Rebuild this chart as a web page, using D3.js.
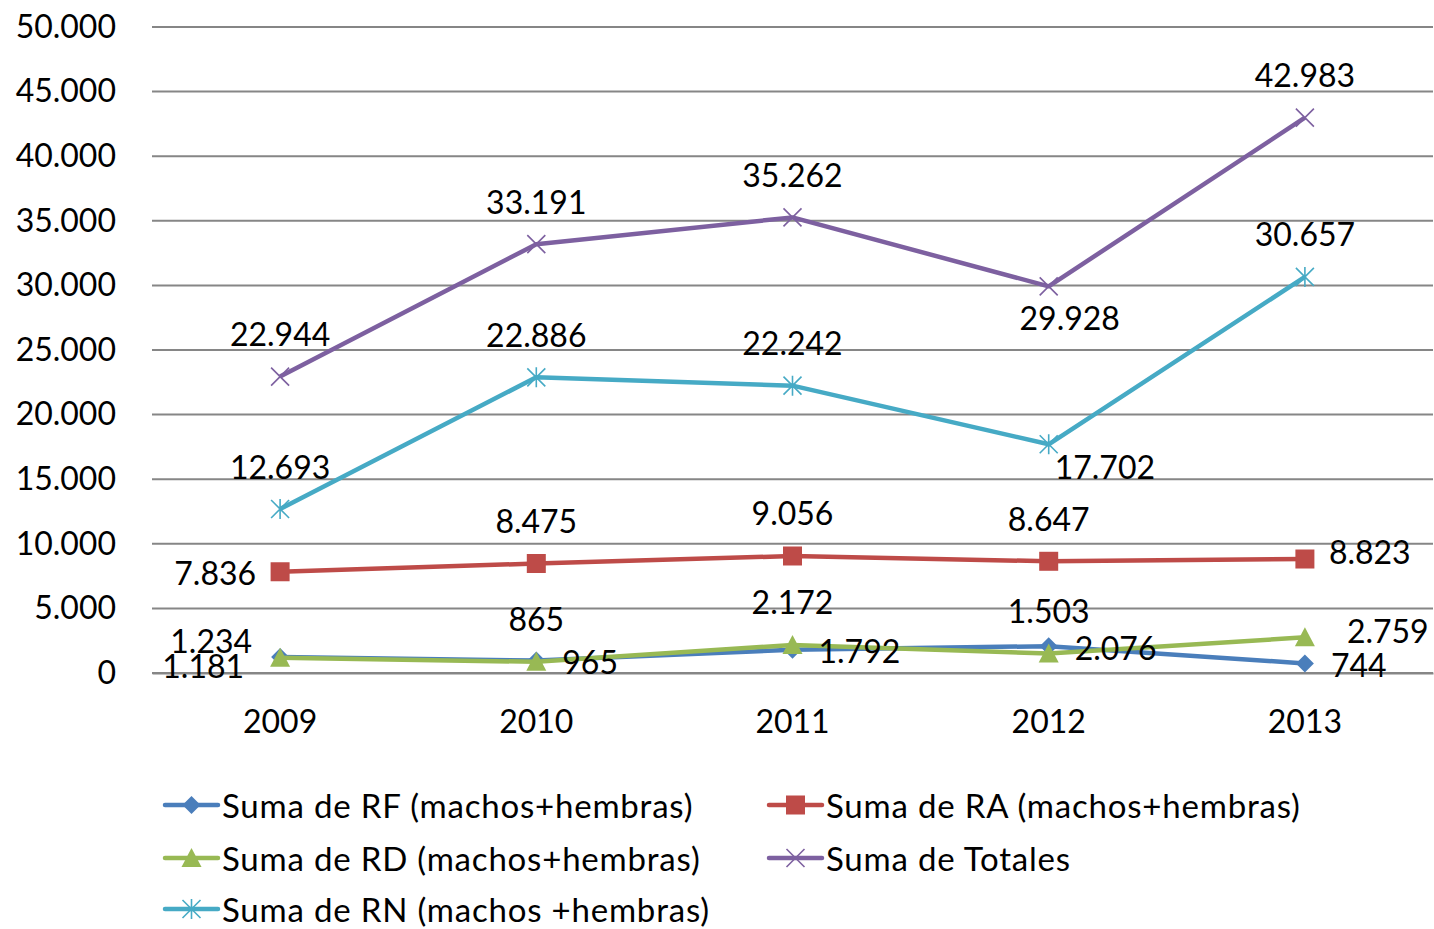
<!DOCTYPE html>
<html><head><meta charset="utf-8">
<script src="https://cdn.jsdelivr.net/npm/d3@7"></script>
<style>
html,body{margin:0;padding:0;background:#fff;}
svg{display:block;font-family:Lato,"Open Sans",sans-serif;}
</style></head>
<body><svg id="c" width="1434" height="929"></svg>
<script>
const years = ["2009","2010","2011","2012","2013"];
const rf = [1234, 965, 1792, 2076, 744];
const ra = [7836, 8475, 9056, 8647, 8823];
const rd = [1181, 865, 2172, 1503, 2759];
const rn = [12693, 22886, 22242, 17702, 30657];
const totales = [22944, 33191, 35262, 29928, 42983];
const yTicks = [0, 5000, 10000, 15000, 20000, 25000, 30000, 35000, 40000, 45000, 50000];
const names = ["Suma de RF (machos+hembras)", "Suma de RA (machos+hembras)", "Suma de RD (machos+hembras)", "Suma de Totales", "Suma de RN (machos +hembras)"];

// label placement codes per point (style only)
const place = {
  rf: ["lu","r","r","r","r"],
  ra: ["l","t","t","t","ru2"],
  rd: ["ld","t","t","t","ru"],
  rn: ["t","t","t","rb","t"],
  tot: ["t","t","t","b","t"]
};

const series = [
  {key:"rf", name:names[0], values:rf, color:"#4A7EBB", marker:"diamond"},
  {key:"ra", name:names[1], values:ra, color:"#BE4B48", marker:"square"},
  {key:"rd", name:names[2], values:rd, color:"#98B954", marker:"triangle"},
  {key:"tot", name:names[3], values:totales, color:"#7D60A0", marker:"x"},
  {key:"rn", name:names[4], values:rn, color:"#46AAC5", marker:"star"}
];
const drawOrder = ["rf","ra","rd","rn","tot"];

const svg = d3.select("#c");
const L = 152, R = 1433, T = 27, B = 673;
const x = d3.scaleBand().domain(years).range([L, R]);
const y = d3.scaleLinear().domain([0, 50000]).range([B, T]);
const fmt = v => d3.format(",")(v).replace(/,/g, ".");
const FS = 32;

// gridlines
svg.append("g").selectAll("line").data(yTicks).join("line")
  .attr("x1", L).attr("x2", R)
  .attr("y1", d => y(d)).attr("y2", d => y(d))
  .attr("stroke", "#868686").attr("stroke-width", 2);

// y axis
const ya = svg.append("g").attr("transform", `translate(${L},0)`)
  .call(d3.axisLeft(y).tickValues(yTicks).tickFormat(fmt).tickSize(0).tickPadding(36));
ya.select(".domain").remove();
ya.selectAll("text").attr("font-size", FS).attr("font-family", "Lato,'Open Sans',sans-serif").attr("fill", "#000");

// x axis
const xa = svg.append("g").attr("transform", `translate(0,${B})`)
  .call(d3.axisBottom(x).tickSize(0).tickPadding(37));
xa.select(".domain").attr("stroke", "#868686").attr("stroke-width", 2);
xa.selectAll("text").attr("font-size", FS).attr("font-family", "Lato,'Open Sans',sans-serif").attr("fill", "#000");

const cx = d => x(d) + x.bandwidth() / 2;
const line = d3.line().x((d, i) => cx(years[i])).y(d => y(d));

function drawMarker(g, type, color, px, py, s) {
  s = s || 1;
  if (type === "diamond") {
    const r = 9 * s;
    g.append("path").attr("d", `M${px},${py - r}L${px + r},${py}L${px},${py + r}L${px - r},${py}Z`).attr("fill", color);
  } else if (type === "square") {
    const r = 9.5 * s;
    g.append("rect").attr("x", px - r).attr("y", py - r).attr("width", 2 * r).attr("height", 2 * r).attr("fill", color);
  } else if (type === "triangle") {
    const r = 10 * s;
    g.append("path").attr("d", `M${px},${py - r}L${px + r},${py + r * 0.9}L${px - r},${py + r * 0.9}Z`).attr("fill", color);
  } else if (type === "x") {
    const r = 9 * s;
    g.append("path").attr("d", `M${px - r},${py - r}L${px + r},${py + r}M${px + r},${py - r}L${px - r},${py + r}`)
      .attr("stroke", color).attr("stroke-width", 1.6);
  } else if (type === "star") {
    const r = 9 * s;
    g.append("path").attr("d", `M${px - r},${py - r}L${px + r},${py + r}M${px + r},${py - r}L${px - r},${py + r}M${px},${py - r - 1}L${px},${py + r + 1}`)
      .attr("stroke", color).attr("stroke-width", 1.6);
  }
}

const plot = svg.append("g");
drawOrder.forEach(k => {
  const s = series.find(d => d.key === k);
  plot.append("path").datum(s.values).attr("d", line)
    .attr("fill", "none").attr("stroke", s.color).attr("stroke-width", 4.5).attr("stroke-linejoin", "round");
  s.values.forEach((v, i) => drawMarker(plot, s.marker, s.color, cx(years[i]), y(v)));
});

// labels
const lab = svg.append("g").attr("font-size", FS).attr("fill", "#000");
const off = {
  t: [0, -43, "middle"], b: [21, 31, "middle"], r: [26, 1, "start"], l: [-24, 1, "end"],
  lu: [-28, -17, "end"], ld: [-36, 8, "end"], ru: [42, -7, "start"], ru2: [24, -8, "start"], rb: [6, 22, "start"]
};
drawOrder.forEach(k => {
  const s = series.find(d => d.key === k);
  s.values.forEach((v, i) => {
    const o = off[place[k][i]];
    lab.append("text").attr("x", cx(years[i]) + o[0]).attr("y", y(v) + o[1])
      .attr("text-anchor", o[2]).attr("dominant-baseline", "central").text(fmt(v));
  });
});

// legend
const leg = svg.append("g");
const legPos = [[165, 805], [769, 805], [165, 858], [769, 858], [165, 909]];
series.forEach((s, i) => {
  const [lx, ly] = legPos[i];
  leg.append("line").attr("x1", lx).attr("x2", lx + 53).attr("y1", ly).attr("y2", ly)
    .attr("stroke", s.color).attr("stroke-width", 4.5).attr("stroke-linecap", "round");
  drawMarker(leg, s.marker, s.color, lx + 26.5, ly);
  leg.append("text").attr("x", lx + 57).attr("y", ly).attr("dominant-baseline", "central")
    .attr("font-size", 33).attr("letter-spacing", 0.8).attr("fill", "#000").text(s.name);
});
</script></body></html>
